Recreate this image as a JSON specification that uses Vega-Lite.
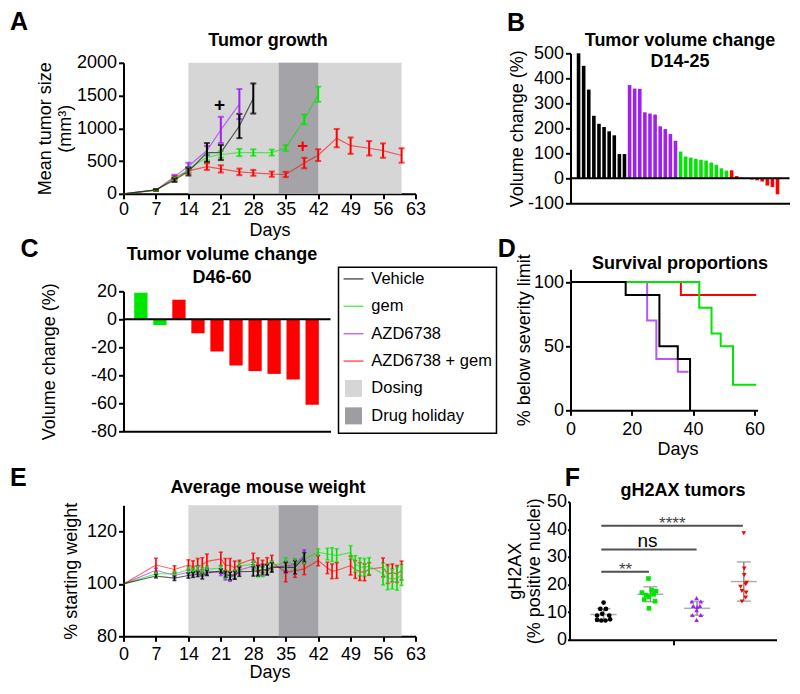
{
"$schema":"https://vega.github.io/schema/vega-lite/v6.json",
"padding":{"left":9.5,"top":9.3,"right":8,"bottom":8},
"background":"white",
"config":{
 "font":"Liberation Sans",
 "view":{"stroke":null},
 "text":{"font":"Liberation Sans"},
 "axis":{"labelFontSize":18,"titleFontSize":18,"labelColor":"#000","titleColor":"#000","domainColor":"#000","tickColor":"#000","domainWidth":2,"tickWidth":2,"tickSize":5,"labelPadding":2,"grid":false,"labelFlush":false,"labelOverlap":false,"titleFontWeight":"normal","labelFont":"Liberation Sans","titleFont":"Liberation Sans","zindex":1}
},
"datasets":{
 "phases":[{"phase":"Dosing","start":14,"end":60},{"phase":"Drug holiday","start":33.5,"end":42}],
 "growth":[
  {"series":"AZD6738","day":0,"mean":0,"err":0},{"series":"AZD6738","day":7,"mean":60,"err":10},{"series":"AZD6738","day":11,"mean":260,"err":30},{"series":"AZD6738","day":14,"mean":420,"err":55},{"series":"AZD6738","day":18,"mean":660,"err":70},{"series":"AZD6738","day":21,"mean":975,"err":200},{"series":"AZD6738","day":25,"mean":1370,"err":230},
  {"series":"AZD6738 + gem","day":0,"mean":0,"err":0},{"series":"AZD6738 + gem","day":7,"mean":55,"err":8},{"series":"AZD6738 + gem","day":11,"mean":240,"err":30},{"series":"AZD6738 + gem","day":14,"mean":350,"err":40},{"series":"AZD6738 + gem","day":18,"mean":415,"err":50},{"series":"AZD6738 + gem","day":21,"mean":380,"err":55},{"series":"AZD6738 + gem","day":25,"mean":335,"err":50},{"series":"AZD6738 + gem","day":28,"mean":320,"err":45},{"series":"AZD6738 + gem","day":32,"mean":300,"err":40},{"series":"AZD6738 + gem","day":35,"mean":295,"err":40},{"series":"AZD6738 + gem","day":39,"mean":470,"err":80},{"series":"AZD6738 + gem","day":42,"mean":590,"err":90},{"series":"AZD6738 + gem","day":46,"mean":850,"err":140},{"series":"AZD6738 + gem","day":49,"mean":735,"err":125},{"series":"AZD6738 + gem","day":53,"mean":695,"err":110},{"series":"AZD6738 + gem","day":56,"mean":660,"err":110},{"series":"AZD6738 + gem","day":60,"mean":585,"err":110},
  {"series":"gem","day":0,"mean":0,"err":0},{"series":"gem","day":7,"mean":55,"err":8},{"series":"gem","day":11,"mean":230,"err":25},{"series":"gem","day":14,"mean":370,"err":35},{"series":"gem","day":18,"mean":560,"err":50},{"series":"gem","day":21,"mean":600,"err":50},{"series":"gem","day":25,"mean":630,"err":55},{"series":"gem","day":28,"mean":630,"err":50},{"series":"gem","day":32,"mean":630,"err":45},{"series":"gem","day":35,"mean":700,"err":45},{"series":"gem","day":39,"mean":1135,"err":75},{"series":"gem","day":42,"mean":1520,"err":115},
  {"series":"Vehicle","day":0,"mean":0,"err":0},{"series":"Vehicle","day":7,"mean":60,"err":10},{"series":"Vehicle","day":11,"mean":210,"err":30},{"series":"Vehicle","day":14,"mean":340,"err":60},{"series":"Vehicle","day":18,"mean":630,"err":145},{"series":"Vehicle","day":21,"mean":630,"err":115},{"series":"Vehicle","day":25,"mean":1035,"err":185},{"series":"Vehicle","day":28,"mean":1455,"err":230}
 ],
 "waterB":[
  {"idx":1,"group":"Vehicle","change":500},{"idx":2,"group":"Vehicle","change":450},{"idx":3,"group":"Vehicle","change":355},{"idx":4,"group":"Vehicle","change":250},{"idx":5,"group":"Vehicle","change":218},{"idx":6,"group":"Vehicle","change":205},{"idx":7,"group":"Vehicle","change":188},{"idx":8,"group":"Vehicle","change":172},{"idx":9,"group":"Vehicle","change":97},{"idx":10,"group":"Vehicle","change":97},
  {"idx":11,"group":"AZD6738","change":373},{"idx":12,"group":"AZD6738","change":359},{"idx":13,"group":"AZD6738","change":358},{"idx":14,"group":"AZD6738","change":264},{"idx":15,"group":"AZD6738","change":259},{"idx":16,"group":"AZD6738","change":255},{"idx":17,"group":"AZD6738","change":208},{"idx":18,"group":"AZD6738","change":197},{"idx":19,"group":"AZD6738","change":177},{"idx":20,"group":"AZD6738","change":150},
  {"idx":21,"group":"gem","change":107},{"idx":22,"group":"gem","change":87},{"idx":23,"group":"gem","change":83},{"idx":24,"group":"gem","change":78},{"idx":25,"group":"gem","change":74},{"idx":26,"group":"gem","change":71},{"idx":27,"group":"gem","change":63},{"idx":28,"group":"gem","change":54},{"idx":29,"group":"gem","change":40},{"idx":30,"group":"gem","change":31},
  {"idx":31,"group":"AZD6738 + gem","change":32},{"idx":32,"group":"AZD6738 + gem","change":9},{"idx":33,"group":"AZD6738 + gem","change":3},{"idx":34,"group":"AZD6738 + gem","change":0},{"idx":35,"group":"AZD6738 + gem","change":-5},{"idx":36,"group":"AZD6738 + gem","change":-8},{"idx":37,"group":"AZD6738 + gem","change":-13},{"idx":38,"group":"AZD6738 + gem","change":-29},{"idx":39,"group":"AZD6738 + gem","change":-35},{"idx":40,"group":"AZD6738 + gem","change":-64}
 ],
 "waterC":[
  {"idx":1,"group":"gem","change":19},{"idx":2,"group":"gem","change":-4},{"idx":3,"group":"AZD6738 + gem","change":14},{"idx":4,"group":"AZD6738 + gem","change":-10},{"idx":5,"group":"AZD6738 + gem","change":-23},{"idx":6,"group":"AZD6738 + gem","change":-33},{"idx":7,"group":"AZD6738 + gem","change":-37},{"idx":8,"group":"AZD6738 + gem","change":-39},{"idx":9,"group":"AZD6738 + gem","change":-43},{"idx":10,"group":"AZD6738 + gem","change":-61}
 ],
 "legend":[
  {"label":"Vehicle","kind":"line"},{"label":"gem","kind":"line"},{"label":"AZD6738","kind":"line"},{"label":"AZD6738 + gem","kind":"line"},{"label":"Dosing","kind":"box"},{"label":"Drug holiday","kind":"box"}
 ],
 "surv":[
  {"series":"AZD6738 + gem","day":0,"pct":100},{"series":"AZD6738 + gem","day":36,"pct":90},{"series":"AZD6738 + gem","day":60.6,"pct":90},
  {"series":"AZD6738","day":0,"pct":100},{"series":"AZD6738","day":25,"pct":70},{"series":"AZD6738","day":28,"pct":40},{"series":"AZD6738","day":35,"pct":30},{"series":"AZD6738","day":38.5,"pct":30},
  {"series":"gem","day":0,"pct":100},{"series":"gem","day":42,"pct":80},{"series":"gem","day":46,"pct":60},{"series":"gem","day":49,"pct":50},{"series":"gem","day":53,"pct":20},{"series":"gem","day":60.6,"pct":20},
  {"series":"Vehicle","day":0,"pct":100},{"series":"Vehicle","day":18,"pct":90},{"series":"Vehicle","day":29,"pct":50},{"series":"Vehicle","day":35,"pct":40},{"series":"Vehicle","day":39,"pct":0}
 ],
 "weight":[
  {"series":"AZD6738","day":0,"mean":100,"err":0},{"series":"AZD6738","day":7,"mean":105.2,"err":0.8},{"series":"AZD6738","day":11,"mean":103.3,"err":1},{"series":"AZD6738","day":14,"mean":104.4,"err":1.2},{"series":"AZD6738","day":15,"mean":104.6,"err":1.2},{"series":"AZD6738","day":16,"mean":105.3,"err":1.3},{"series":"AZD6738","day":17,"mean":104.2,"err":1.3},{"series":"AZD6738","day":18,"mean":104.8,"err":1.3},{"series":"AZD6738","day":21,"mean":104.5,"err":1.3},{"series":"AZD6738","day":22,"mean":102.8,"err":1.3},{"series":"AZD6738","day":23,"mean":102.3,"err":1.3},{"series":"AZD6738","day":24,"mean":103.3,"err":1.5},{"series":"AZD6738","day":25,"mean":105.3,"err":1.5},{"series":"AZD6738","day":28,"mean":106.8,"err":1.5},{"series":"AZD6738","day":29,"mean":105.3,"err":1.8},{"series":"AZD6738","day":30,"mean":104.8,"err":1.8},{"series":"AZD6738","day":31,"mean":105.3,"err":1.8},{"series":"AZD6738","day":32,"mean":106.5,"err":1.8},{"series":"AZD6738","day":35,"mean":106.8,"err":1.8},{"series":"AZD6738","day":37,"mean":107.5,"err":2},{"series":"AZD6738","day":39,"mean":111,"err":2},
  {"series":"AZD6738 + gem","day":0,"mean":100,"err":0},{"series":"AZD6738 + gem","day":7,"mean":107.2,"err":2.6},{"series":"AZD6738 + gem","day":11,"mean":105.5,"err":1.4},{"series":"AZD6738 + gem","day":14,"mean":107.2,"err":2},{"series":"AZD6738 + gem","day":15,"mean":106.6,"err":2.2},{"series":"AZD6738 + gem","day":16,"mean":107.1,"err":2.6},{"series":"AZD6738 + gem","day":17,"mean":107.2,"err":2.8},{"series":"AZD6738 + gem","day":18,"mean":108.6,"err":2.8},{"series":"AZD6738 + gem","day":21,"mean":109.5,"err":2.6},{"series":"AZD6738 + gem","day":22,"mean":107.1,"err":2.6},{"series":"AZD6738 + gem","day":23,"mean":107.1,"err":2.6},{"series":"AZD6738 + gem","day":24,"mean":106.1,"err":2.6},{"series":"AZD6738 + gem","day":25,"mean":107.6,"err":1.4},{"series":"AZD6738 + gem","day":28,"mean":109.5,"err":2.2},{"series":"AZD6738 + gem","day":29,"mean":107.3,"err":2.6},{"series":"AZD6738 + gem","day":30,"mean":106.6,"err":2.4},{"series":"AZD6738 + gem","day":31,"mean":107.6,"err":2.4},{"series":"AZD6738 + gem","day":32,"mean":108.3,"err":2.6},{"series":"AZD6738 + gem","day":35,"mean":104.4,"err":3.6},{"series":"AZD6738 + gem","day":37,"mean":105,"err":2.5},{"series":"AZD6738 + gem","day":39,"mean":105.7,"err":2.2},{"series":"AZD6738 + gem","day":42,"mean":108.9,"err":2},{"series":"AZD6738 + gem","day":44,"mean":106.1,"err":2.2},{"series":"AZD6738 + gem","day":45,"mean":104.8,"err":2.8},{"series":"AZD6738 + gem","day":46,"mean":105.1,"err":3},{"series":"AZD6738 + gem","day":49,"mean":107,"err":3.6},{"series":"AZD6738 + gem","day":50,"mean":105.5,"err":3.4},{"series":"AZD6738 + gem","day":51,"mean":104.7,"err":3.4},{"series":"AZD6738 + gem","day":52,"mean":104.4,"err":3.2},{"series":"AZD6738 + gem","day":53,"mean":105.7,"err":2.4},{"series":"AZD6738 + gem","day":56,"mean":106.3,"err":3.6},{"series":"AZD6738 + gem","day":57,"mean":103.8,"err":3.6},{"series":"AZD6738 + gem","day":58,"mean":104.2,"err":3.4},{"series":"AZD6738 + gem","day":59,"mean":103.8,"err":3.2},{"series":"AZD6738 + gem","day":60,"mean":105.1,"err":3.6},
  {"series":"gem","day":0,"mean":100,"err":0},{"series":"gem","day":7,"mean":103.8,"err":0.8},{"series":"gem","day":11,"mean":103.9,"err":1},{"series":"gem","day":14,"mean":105.3,"err":1.2},{"series":"gem","day":15,"mean":105,"err":1.2},{"series":"gem","day":16,"mean":105.6,"err":1.3},{"series":"gem","day":17,"mean":104.8,"err":1.5},{"series":"gem","day":18,"mean":105.6,"err":1.2},{"series":"gem","day":21,"mean":106,"err":1},{"series":"gem","day":22,"mean":103.6,"err":1.6},{"series":"gem","day":23,"mean":103.2,"err":1.6},{"series":"gem","day":24,"mean":103.8,"err":1.6},{"series":"gem","day":25,"mean":106.8,"err":1.6},{"series":"gem","day":28,"mean":107.5,"err":1.5},{"series":"gem","day":29,"mean":104.5,"err":1.8},{"series":"gem","day":30,"mean":104.6,"err":1.8},{"series":"gem","day":31,"mean":106,"err":1.8},{"series":"gem","day":32,"mean":107,"err":1.8},{"series":"gem","day":35,"mean":108.2,"err":1.8},{"series":"gem","day":37,"mean":107.6,"err":2},{"series":"gem","day":39,"mean":109.5,"err":2},{"series":"gem","day":42,"mean":112,"err":1.4},{"series":"gem","day":44,"mean":111.4,"err":2.2},{"series":"gem","day":45,"mean":111.2,"err":2.6},{"series":"gem","day":46,"mean":110.8,"err":2.6},{"series":"gem","day":49,"mean":112,"err":2.6},{"series":"gem","day":50,"mean":107.6,"err":3.2},{"series":"gem","day":51,"mean":106.5,"err":3.4},{"series":"gem","day":52,"mean":106.3,"err":3.4},{"series":"gem","day":53,"mean":106.8,"err":3.2},{"series":"gem","day":56,"mean":103.8,"err":4.2},{"series":"gem","day":57,"mean":102.3,"err":4.5},{"series":"gem","day":58,"mean":101.9,"err":3.8},{"series":"gem","day":59,"mean":102.1,"err":4.5},{"series":"gem","day":60,"mean":103.4,"err":4},
  {"series":"Vehicle","day":0,"mean":100,"err":0},{"series":"Vehicle","day":7,"mean":103,"err":0.7},{"series":"Vehicle","day":11,"mean":102.2,"err":0.9},{"series":"Vehicle","day":14,"mean":103.2,"err":1},{"series":"Vehicle","day":15,"mean":103.5,"err":1},{"series":"Vehicle","day":16,"mean":103.8,"err":1},{"series":"Vehicle","day":17,"mean":102.9,"err":1},{"series":"Vehicle","day":18,"mean":104.2,"err":1},{"series":"Vehicle","day":21,"mean":104.9,"err":0.8},{"series":"Vehicle","day":22,"mean":103.7,"err":1.2},{"series":"Vehicle","day":23,"mean":103,"err":1.5},{"series":"Vehicle","day":24,"mean":103.3,"err":1.5},{"series":"Vehicle","day":25,"mean":104.7,"err":1.8},{"series":"Vehicle","day":28,"mean":104.8,"err":1.8},{"series":"Vehicle","day":29,"mean":105,"err":2},{"series":"Vehicle","day":30,"mean":105.5,"err":2},{"series":"Vehicle","day":31,"mean":105.4,"err":2},{"series":"Vehicle","day":32,"mean":106.3,"err":1.8},{"series":"Vehicle","day":35,"mean":106.3,"err":2},{"series":"Vehicle","day":37,"mean":106.3,"err":2.5},{"series":"Vehicle","day":39,"mean":110.2,"err":1.8}
 ],
 "fdots":[
  {"group":"Vehicle","pos":1.0,"v":13.5},{"group":"Vehicle","pos":0.93,"v":11.2},{"group":"Vehicle","pos":1.05,"v":11.2},{"group":"Vehicle","pos":0.86,"v":8.8},{"group":"Vehicle","pos":0.97,"v":9.4},{"group":"Vehicle","pos":1.12,"v":8.8},{"group":"Vehicle","pos":0.86,"v":7.2},{"group":"Vehicle","pos":0.95,"v":7.0},{"group":"Vehicle","pos":1.04,"v":7.0},{"group":"Vehicle","pos":1.14,"v":7.4},
  {"group":"gem","pos":1.96,"v":22.2},{"group":"gem","pos":1.82,"v":17.1},{"group":"gem","pos":1.91,"v":16.2},{"group":"gem","pos":2.03,"v":18.0},{"group":"gem","pos":2.12,"v":17.6},{"group":"gem","pos":1.97,"v":15.6},{"group":"gem","pos":2.07,"v":16.5},{"group":"gem","pos":1.87,"v":14.6},{"group":"gem","pos":2.1,"v":14.0},{"group":"gem","pos":1.97,"v":11.4},
  {"group":"AZD6738","pos":2.99,"v":15.1},{"group":"AZD6738","pos":2.89,"v":13.9},{"group":"AZD6738","pos":3.08,"v":13.9},{"group":"AZD6738","pos":2.92,"v":12.3},{"group":"AZD6738","pos":3.06,"v":12.3},{"group":"AZD6738","pos":2.99,"v":10.7},{"group":"AZD6738","pos":2.9,"v":9.0},{"group":"AZD6738","pos":3.08,"v":9.0},{"group":"AZD6738","pos":2.99,"v":7.2},{"group":"AZD6738","pos":3.0,"v":11.9},
  {"group":"AZD6738 + gem","pos":4.0,"v":38.6},{"group":"AZD6738 + gem","pos":4.01,"v":25.8},{"group":"AZD6738 + gem","pos":4.01,"v":23.5},{"group":"AZD6738 + gem","pos":3.93,"v":19.2},{"group":"AZD6738 + gem","pos":4.04,"v":20.1},{"group":"AZD6738 + gem","pos":3.96,"v":17.7},{"group":"AZD6738 + gem","pos":4.05,"v":17.1},{"group":"AZD6738 + gem","pos":4.04,"v":15.3},{"group":"AZD6738 + gem","pos":3.96,"v":13.9},{"group":"AZD6738 + gem","pos":4.06,"v":20.7}
 ],
 "fsum":[
  {"group":"Vehicle","gx":1.0,"mean":9.2,"sd":2.1},{"group":"gem","gx":2.0,"mean":16.5,"sd":2.7},{"group":"AZD6738","gx":3.0,"mean":11.4,"sd":2.5},{"group":"AZD6738 + gem","gx":4.0,"mean":21.1,"sd":7.1}
 ],
 "fsig":[
  {"label":"**","x1":0.95,"x2":1.97,"yb":24.7,"mid":1.47,"yt":23.6},
  {"label":"ns","x1":0.95,"x2":2.99,"yb":32.7,"mid":1.94,"yt":33.7},
  {"label":"****","x1":0.95,"x2":3.98,"yb":41.3,"mid":2.47,"yt":40.2}
 ]
},
"vconcat":[
 {"vconcat":[
  {"hconcat":[
   {"width":292,"height":131,
    "resolve":{"axis":{"x":"independent","y":"independent"}},
    "layer":[
     {"data":{"name":"phases"},"mark":{"type":"rect"},
      "encoding":{
       "x":{"field":"start","type":"quantitative","scale":{"domain":[0,63],"nice":false},"axis":{"values":[0,7,14,21,28,35,42,49,56,63],"title":"Days","labelPadding":2,"titleY":42,"titleBaseline":"alphabetic"}},
       "x2":{"field":"end"},
       "y":{"datum":0,"type":"quantitative","scale":{"domain":[0,2000],"nice":false},"axis":{"values":[0,500,1000,1500,2000],"format":"d","title":["Mean tumor size","(mm³)"],"titlePadding":2,"titleLineHeight":20}},
       "y2":{"datum":2000},
       "fill":{"field":"phase","type":"nominal","scale":{"domain":["Dosing","Drug holiday"],"range":["#d6d6d6","#a3a3a8"]},"legend":null}}},
     {"data":{"name":"growth"},"mark":{"type":"line","strokeWidth":1.2,"opacity":0.6},
      "encoding":{
       "x":{"field":"day","type":"quantitative","scale":{"domain":[0,63],"nice":false},"axis":null},
       "y":{"field":"mean","type":"quantitative","scale":{"domain":[0,2000],"nice":false},"axis":null},
       "color":{"field":"series","type":"nominal","scale":{"domain":["Vehicle","gem","AZD6738","AZD6738 + gem"],"range":["#000000","#00e600","#a020f0","#ff0000"]},"legend":null}}},
     {"data":{"name":"growth"},"transform":[{"filter":"datum.err > 0"}],"mark":{"type":"errorbar","ticks":true,"size":6,"thickness":2},
      "encoding":{
       "x":{"field":"day","type":"quantitative","scale":{"domain":[0,63],"nice":false},"axis":null},
       "y":{"field":"mean","type":"quantitative","scale":{"domain":[0,2000],"nice":false},"axis":null},
       "yError":{"field":"err"},
       "color":{"field":"series","type":"nominal","scale":{"domain":["Vehicle","gem","AZD6738","AZD6738 + gem"],"range":["#000000","#00e600","#a020f0","#ff0000"]},"legend":null}}},
     {"data":{"values":[{"series":"Vehicle","day":20.7,"mean":1357},{"series":"AZD6738 + gem","day":38.7,"mean":724}]},
      "mark":{"type":"text","text":"+","fontSize":19,"fontWeight":"bold","baseline":"middle","align":"center"},
      "encoding":{
       "x":{"field":"day","type":"quantitative","scale":{"domain":[0,63],"nice":false},"axis":null},
       "y":{"field":"mean","type":"quantitative","scale":{"domain":[0,2000],"nice":false},"axis":null},
       "color":{"field":"series","type":"nominal","scale":{"domain":["Vehicle","gem","AZD6738","AZD6738 + gem"],"range":["#000000","#00e600","#a020f0","#ff0000"]},"legend":null}}},
     {"data":{"values":[{"letter":"A"}]},"mark":{"type":"text","fontSize":25,"fontWeight":"bold","align":"left","baseline":"alphabetic"},
      "encoding":{
       "text":{"field":"letter"},
       "x":{"datum":-24.49,"type":"quantitative","scale":{"domain":[0,63],"nice":false},"axis":{"orient":"top","domain":false,"ticks":false,"labels":false,"title":"Tumor growth","titleFontWeight":"bold","titleX":144,"titleY":-17.5,"titleBaseline":"alphabetic","titleAlign":"center"}},
       "y":{"datum":2499,"type":"quantitative","scale":{"domain":[0,2000],"nice":false},"axis":null}}}
    ]},
   {"width":219,"height":150,
    "resolve":{"axis":{"x":"independent","y":"independent"}},
    "layer":[
     {"data":{"name":"waterB"},"mark":{"type":"bar","width":3.6,"orient":"vertical"},
      "encoding":{
       "x":{"field":"idx","type":"quantitative","scale":{"domain":[0.4,41.37],"nice":false,"zero":false},"axis":{"ticks":false,"labels":false,"title":null}},
       "y":{"field":"change","type":"quantitative","scale":{"domain":[-100,500],"nice":false},"axis":{"values":[-100,0,100,200,300,400,500],"title":"Volume change (%)","titlePadding":1,"labelExpr":"datum.value < 0 ? '-' + abs(datum.value) : datum.label"}},
       "color":{"field":"group","type":"nominal","scale":{"domain":["Vehicle","gem","AZD6738","AZD6738 + gem"],"range":["#000000","#00e600","#a020f0","#ff0000"]},"legend":null}}},
     {"data":{"values":[{}]},"mark":{"type":"rule","strokeWidth":2,"color":"#000"},
      "encoding":{"y":{"datum":0,"type":"quantitative","scale":{"domain":[-100,500],"nice":false},"axis":null}}},
     {"data":{"values":[{"letter":"B"}]},"mark":{"type":"text","fontSize":25,"fontWeight":"bold","align":"left","baseline":"alphabetic"},
      "encoding":{
       "text":{"field":"letter"},
       "x":{"datum":-13.01,"type":"quantitative","scale":{"domain":[0.4,41.37],"nice":false,"zero":false},"axis":{"orient":"top","domain":false,"ticks":false,"labels":false,"title":["Tumor volume change","D14-25"],"titleFontWeight":"bold","titleX":109,"titleY":-7.8,"titleBaseline":"alphabetic","titleAlign":"center","titleLineHeight":21.5}},
       "y":{"datum":590.8,"type":"quantitative","scale":{"domain":[-100,500],"nice":false},"axis":null}}}
    ]}
  ],"bounds":"flush","center":true,"spacing":155},
  {"hconcat":[
   {"hconcat":[
    {"vconcat":[
     {"width":10,"height":1,"data":{"values":[]},"mark":"rule","encoding":{}},
     {"width":207,"height":140,
      "resolve":{"axis":{"x":"independent","y":"independent"}},
      "layer":[
       {"data":{"name":"waterC"},"mark":{"type":"bar","width":13.3,"orient":"vertical"},
        "encoding":{
         "x":{"field":"idx","type":"quantitative","scale":{"domain":[0.35,10.7],"nice":false,"zero":false},"axis":{"ticks":false,"labels":false,"title":null}},
         "y":{"field":"change","type":"quantitative","scale":{"domain":[-80,20],"nice":false},"axis":{"values":[-80,-60,-40,-20,0,20],"title":"Volume change (%)","titlePadding":32,"labelExpr":"datum.value < 0 ? '-' + abs(datum.value) : datum.label"}},
         "color":{"field":"group","type":"nominal","scale":{"domain":["Vehicle","gem","AZD6738","AZD6738 + gem"],"range":["#000000","#00e600","#a020f0","#ff0000"]},"legend":null}}},
       {"data":{"values":[{}]},"mark":{"type":"rule","strokeWidth":2,"color":"#000"},
        "encoding":{"y":{"datum":0,"type":"quantitative","scale":{"domain":[-80,20],"nice":false},"axis":null}}},
       {"data":{"values":[{"letter":"C"}]},"mark":{"type":"text","fontSize":25,"fontWeight":"bold","align":"left","baseline":"alphabetic"},
        "encoding":{
         "text":{"field":"letter"},
         "x":{"datum":-5.325,"type":"quantitative","scale":{"domain":[0.35,10.7],"nice":false,"zero":false},"axis":{"orient":"top","domain":false,"ticks":false,"labels":false,"title":["Tumor volume change","D46-60"],"titleFontWeight":"bold","titleX":98,"titleY":-31.5,"titleBaseline":"alphabetic","titleAlign":"center","titleLineHeight":22.5}},
         "y":{"datum":44.29,"type":"quantitative","scale":{"domain":[-80,20],"nice":false},"axis":null}}}
      ]}
    ],"bounds":"flush","spacing":23},
    {"width":158,"height":166,
     "view":{"stroke":"#000","strokeWidth":1.5},
     "data":{"name":"legend"},
     "encoding":{"y":{"field":"label","type":"nominal","scale":{"type":"point","domain":["Vehicle","gem","AZD6738","AZD6738 + gem","Dosing","Drug holiday"],"padding":0.53,"align":0.4},"axis":null}},
     "layer":[
      {"transform":[{"filter":"datum.kind == 'line'"}],"mark":{"type":"rule","strokeWidth":1.5,"opacity":0.65},
       "encoding":{
        "x":{"datum":0.32,"type":"quantitative","scale":{"domain":[0,10],"nice":false},"axis":null},
        "x2":{"datum":1.58},
        "color":{"field":"label","type":"nominal","scale":{"domain":["Vehicle","gem","AZD6738","AZD6738 + gem"],"range":["#000000","#00e600","#a020f0","#ff0000"]},"legend":null}}},
      {"transform":[{"filter":"datum.label == 'Dosing'"}],"mark":{"type":"square","size":290,"opacity":1,"color":"#d6d6d6"},
       "encoding":{
        "x":{"datum":0.95,"type":"quantitative","scale":{"domain":[0,10],"nice":false},"axis":null}}},
      {"transform":[{"filter":"datum.label == 'Drug holiday'"}],"mark":{"type":"square","size":290,"opacity":1,"color":"#9d9da2"},
       "encoding":{
        "x":{"datum":0.95,"type":"quantitative","scale":{"domain":[0,10],"nice":false},"axis":null}}},
      {"mark":{"type":"text","align":"left","baseline":"middle","fontSize":16.5,"color":"#000"},
       "encoding":{
        "x":{"datum":2.08,"type":"quantitative","scale":{"domain":[0,10],"nice":false},"axis":null},
        "text":{"field":"label"}}}
     ]}
   ],"spacing":6},
   {"vconcat":[
    {"width":10,"height":1,"data":{"values":[]},"mark":"rule","encoding":{}},
    {"width":187,"height":141,
     "resolve":{"axis":{"x":"independent","y":"independent"}},
     "layer":[
      {"data":{"name":"surv"},"transform":[{"filter":"datum.series == 'AZD6738 + gem'"}],"mark":{"type":"line","interpolate":"step-after","strokeWidth":2},
       "encoding":{
        "x":{"field":"day","type":"quantitative","scale":{"domain":[0,61],"nice":false},"axis":{"values":[0,20,40,60],"title":"Days","labelPadding":5,"titleX":107,"titleY":44.5,"titleBaseline":"alphabetic"}},
        "y":{"field":"pct","type":"quantitative","scale":{"domain":[0,110],"nice":false},"axis":{"values":[0,50,100],"title":"% below severity limit","titlePadding":0}},
        "color":{"field":"series","type":"nominal","scale":{"domain":["Vehicle","gem","AZD6738","AZD6738 + gem"],"range":["#000000","#00e600","#a020f0","#ff0000"]},"legend":null}}},
      {"data":{"name":"surv"},"transform":[{"filter":"datum.series == 'AZD6738'"}],"mark":{"type":"line","interpolate":"step-after","strokeWidth":2,"opacity":0.75},
       "encoding":{
        "x":{"field":"day","type":"quantitative","scale":{"domain":[0,61],"nice":false},"axis":null},
        "y":{"field":"pct","type":"quantitative","scale":{"domain":[0,110],"nice":false},"axis":null},
        "color":{"field":"series","type":"nominal","scale":{"domain":["Vehicle","gem","AZD6738","AZD6738 + gem"],"range":["#000000","#00e600","#a020f0","#ff0000"]},"legend":null}}},
      {"data":{"name":"surv"},"transform":[{"filter":"datum.series == 'gem'"}],"mark":{"type":"line","interpolate":"step-after","strokeWidth":2},
       "encoding":{
        "x":{"field":"day","type":"quantitative","scale":{"domain":[0,61],"nice":false},"axis":null},
        "y":{"field":"pct","type":"quantitative","scale":{"domain":[0,110],"nice":false},"axis":null},
        "color":{"field":"series","type":"nominal","scale":{"domain":["Vehicle","gem","AZD6738","AZD6738 + gem"],"range":["#000000","#00e600","#a020f0","#ff0000"]},"legend":null}}},
      {"data":{"name":"surv"},"transform":[{"filter":"datum.series == 'Vehicle'"}],"mark":{"type":"line","interpolate":"step-after","strokeWidth":2},
       "encoding":{
        "x":{"field":"day","type":"quantitative","scale":{"domain":[0,61],"nice":false},"axis":null},
        "y":{"field":"pct","type":"quantitative","scale":{"domain":[0,110],"nice":false},"axis":null},
        "color":{"field":"series","type":"nominal","scale":{"domain":["Vehicle","gem","AZD6738","AZD6738 + gem"],"range":["#000000","#00e600","#a020f0","#ff0000"]},"legend":null}}},
      {"data":{"values":[{"letter":"D"}]},"mark":{"type":"text","fontSize":25,"fontWeight":"bold","align":"left","baseline":"alphabetic"},
       "encoding":{
        "text":{"field":"letter"},
        "x":{"datum":-23.7,"type":"quantitative","scale":{"domain":[0,61],"nice":false},"axis":{"orient":"top","domain":false,"ticks":false,"labels":false,"title":"Survival proportions","titleFontWeight":"bold","titleX":109,"titleY":-1.1,"titleBaseline":"alphabetic","titleAlign":"center"}},
        "y":{"datum":119.36,"type":"quantitative","scale":{"domain":[0,110],"nice":false},"axis":null}}}
     ]}
   ],"bounds":"flush","spacing":1}
  ],"spacing":0}
 ],"spacing":-4},
 {"hconcat":[
  {"width":292,"height":131,
   "resolve":{"axis":{"x":"independent","y":"independent"}},
   "layer":[
    {"data":{"name":"phases"},"mark":{"type":"rect"},
     "encoding":{
      "x":{"field":"start","type":"quantitative","scale":{"domain":[0,63],"nice":false},"axis":{"values":[0,7,14,21,28,35,42,49,56,63],"title":"Days","labelPadding":4,"titleY":41,"titleBaseline":"alphabetic"}},
      "x2":{"field":"end"},
      "y":{"datum":80,"type":"quantitative","scale":{"domain":[80,130],"nice":false,"zero":false},"axis":{"values":[80,100,120],"title":"% starting weight","titlePadding":6}},
      "y2":{"datum":130},
      "fill":{"field":"phase","type":"nominal","scale":{"domain":["Dosing","Drug holiday"],"range":["#d6d6d6","#a3a3a8"]},"legend":null}}},
    {"data":{"name":"weight"},"mark":{"type":"line","strokeWidth":1.2,"opacity":0.6},
     "encoding":{
      "x":{"field":"day","type":"quantitative","scale":{"domain":[0,63],"nice":false},"axis":null},
      "y":{"field":"mean","type":"quantitative","scale":{"domain":[80,130],"nice":false,"zero":false},"axis":null},
      "color":{"field":"series","type":"nominal","scale":{"domain":["Vehicle","gem","AZD6738","AZD6738 + gem"],"range":["#000000","#00e600","#a020f0","#ff0000"]},"legend":null}}},
    {"data":{"name":"weight"},"transform":[{"filter":"datum.err > 0"}],"mark":{"type":"errorbar","ticks":true,"size":4,"thickness":1.6},
     "encoding":{
      "x":{"field":"day","type":"quantitative","scale":{"domain":[0,63],"nice":false},"axis":null},
      "y":{"field":"mean","type":"quantitative","scale":{"domain":[80,130],"nice":false,"zero":false},"axis":null},
      "yError":{"field":"err"},
      "color":{"field":"series","type":"nominal","scale":{"domain":["Vehicle","gem","AZD6738","AZD6738 + gem"],"range":["#000000","#00e600","#a020f0","#ff0000"]},"legend":null}}},
    {"data":{"values":[{"letter":"E"}]},"mark":{"type":"text","fontSize":25,"fontWeight":"bold","align":"left","baseline":"alphabetic"},
     "encoding":{
      "text":{"field":"letter"},
      "x":{"datum":-24.49,"type":"quantitative","scale":{"domain":[0,63],"nice":false},"axis":{"orient":"top","domain":false,"ticks":false,"labels":false,"title":"Average mouse weight","titleFontWeight":"bold","titleX":144,"titleY":-13,"titleBaseline":"alphabetic","titleAlign":"center"}},
      "y":{"datum":137.44,"type":"quantitative","scale":{"domain":[80,130],"nice":false,"zero":false},"axis":null}}}
   ]},
  {"width":207,"height":138,
   "resolve":{"axis":{"x":"independent","y":"independent"}},
   "layer":[
    {"data":{"name":"fsig"},"mark":{"type":"rule","strokeWidth":2,"color":"#505050"},
     "encoding":{
      "x":{"field":"x1","type":"quantitative","scale":{"domain":[0.27,4.7],"nice":false,"zero":false},"axis":{"values":[2.5],"labels":false,"title":null,"tickSize":5}},
      "x2":{"field":"x2"},
      "y":{"field":"yb","type":"quantitative","scale":{"domain":[0,50],"nice":false},"axis":{"values":[0,10,20,30,40,50],"title":["gH2AX","(% positive nuclei)"],"titlePadding":3,"titleLineHeight":19,"tickSize":2,"labelPadding":1}}}},
    {"data":{"name":"fsig"},"transform":[{"filter":"datum.label != 'ns'"}],"mark":{"type":"text","align":"center","baseline":"alphabetic","fontSize":17,"color":"#444444"},
     "encoding":{
      "x":{"field":"mid","type":"quantitative","scale":{"domain":[0.27,4.7],"nice":false,"zero":false},"axis":null},
      "y":{"field":"yt","type":"quantitative","scale":{"domain":[0,50],"nice":false},"axis":null},
      "text":{"field":"label"}}},
    {"data":{"name":"fsig"},"transform":[{"filter":"datum.label == 'ns'"}],"mark":{"type":"text","align":"center","baseline":"alphabetic","fontSize":19,"color":"#000000"},
     "encoding":{
      "x":{"field":"mid","type":"quantitative","scale":{"domain":[0.27,4.7],"nice":false,"zero":false},"axis":null},
      "y":{"field":"yt","type":"quantitative","scale":{"domain":[0,50],"nice":false},"axis":null},
      "text":{"field":"label"}}},
    {"data":{"name":"fsum"},"mark":{"type":"errorbar","ticks":true,"size":14,"thickness":1.5,"color":"#8a8a8a"},
     "encoding":{
      "x":{"field":"gx","type":"quantitative","scale":{"domain":[0.27,4.7],"nice":false,"zero":false},"axis":null},
      "y":{"field":"mean","type":"quantitative","scale":{"domain":[0,50],"nice":false},"axis":null},
      "yError":{"field":"sd"}}},
    {"data":{"name":"fsum"},"mark":{"type":"tick","orient":"horizontal","size":26,"thickness":1.5,"color":"#8a8a8a"},
     "encoding":{
      "x":{"field":"gx","type":"quantitative","scale":{"domain":[0.27,4.7],"nice":false,"zero":false},"axis":null},
      "y":{"field":"mean","type":"quantitative","scale":{"domain":[0,50],"nice":false},"axis":null}}},
    {"data":{"name":"fdots"},"mark":{"type":"point","filled":true,"size":22,"opacity":1},
     "encoding":{
      "x":{"field":"pos","type":"quantitative","scale":{"domain":[0.27,4.7],"nice":false,"zero":false},"axis":null},
      "y":{"field":"v","type":"quantitative","scale":{"domain":[0,50],"nice":false},"axis":null},
      "color":{"field":"group","type":"nominal","scale":{"domain":["Vehicle","gem","AZD6738","AZD6738 + gem"],"range":["#000000","#00e600","#a020f0","#ff0000"]},"legend":null},
      "shape":{"field":"group","type":"nominal","scale":{"domain":["Vehicle","gem","AZD6738","AZD6738 + gem"],"range":["circle","square","triangle-up","triangle-down"]},"legend":null}}},
    {"data":{"values":[{"letter":"F"}]},"mark":{"type":"text","fontSize":25,"fontWeight":"bold","align":"left","baseline":"alphabetic"},
     "encoding":{
      "text":{"field":"letter"},
      "x":{"datum":0.17,"type":"quantitative","scale":{"domain":[0.27,4.7],"nice":false,"zero":false},"axis":{"orient":"top","domain":false,"ticks":false,"labels":false,"title":"gH2AX tumors","titleFontWeight":"bold","titleX":113,"titleY":-6.1,"titleBaseline":"alphabetic","titleAlign":"center"}},
      "y":{"datum":55.8,"type":"quantitative","scale":{"domain":[0,50],"nice":false},"axis":null}}}
   ]}
 ],"bounds":"flush","center":true,"spacing":154}
],
"spacing":5.5
}
